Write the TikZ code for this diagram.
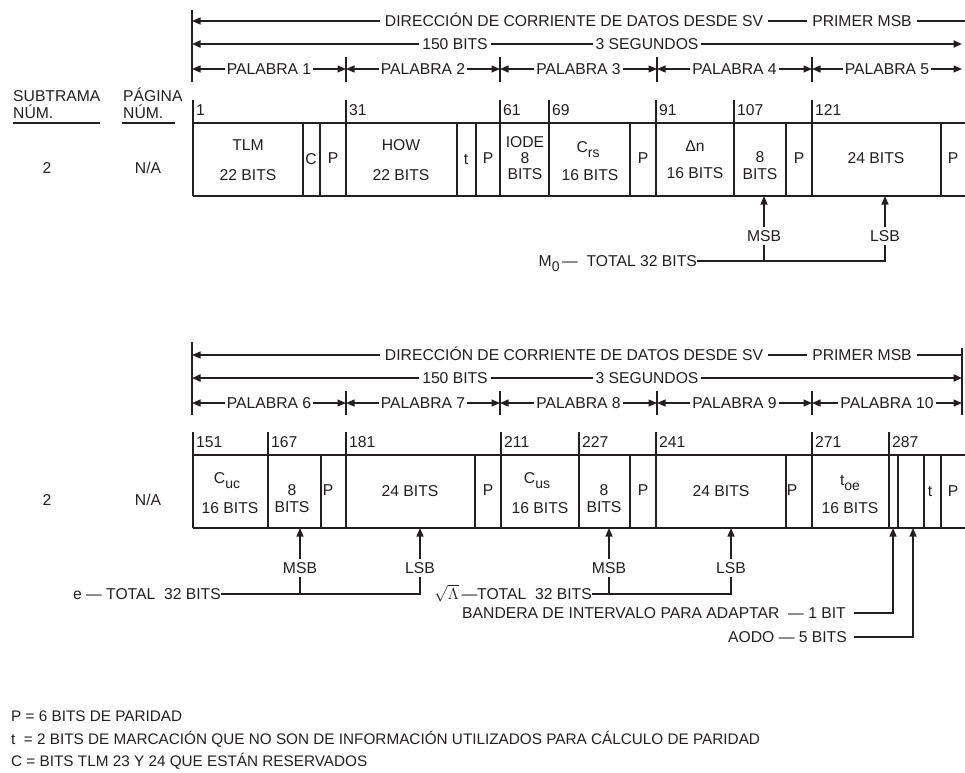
\documentclass[tikz,border=0pt]{standalone}
\usepackage{fontspec}
\setmainfont{Liberation Sans}
\usetikzlibrary{arrows.meta}
\definecolor{ink}{HTML}{231F20}
\newcommand{\sbx}[1]{\raisebox{-4.5pt}{\fontsize{14}{14}\selectfont #1}}
\begin{document}
\begin{tikzpicture}[x=1pt,y=-1pt,
  every node/.style={font=\fontsize{15.7}{18}\selectfont, text=ink, inner sep=0pt, text height=11.2pt, text depth=0pt},
  ln/.style={draw=ink, line width=1.2pt},
  thk/.style={draw=ink, line width=2.4pt},
  bx/.style={draw=ink, line width=1.6pt},
  tip/.style={-{Triangle[length=8.5pt,width=7pt]}},
  tips/.style={{Triangle[length=8.5pt,width=7pt]}-{Triangle[length=8.5pt,width=7pt]}},
  wl/.style={fill=white, inner xsep=5pt, inner ysep=1pt},
  wl2/.style={fill=white, inner xsep=2pt, inner ysep=1pt},
  lab/.style={fill=white, inner xsep=0pt, inner ysep=3pt},
  num/.style={anchor=west},
  leg/.style={anchor=west, font=\fontsize{15.3}{18}\selectfont},
]
\useasboundingbox (0,0) rectangle (965,772);

% ===================== TOP SECTION =====================
\coordinate (hT0) at (192,10); \coordinate (hT1) at (192,82);
\draw[ln] (hT0) -- (hT1);
\foreach \x in {346,500,657,812} \draw[ln] (\x,57) -- (\x,82);
\coordinate (aT1L) at (192,21); \coordinate (aT1R) at (965,21);
\draw[ln,tip] (aT1R) -- (aT1L);
\node[wl] (dirT) at (574,21) {DIRECCIÓN DE CORRIENTE DE DATOS DESDE SV};
\node[wl] (pmT) at (862,21) {PRIMER MSB};
\node[inner xsep=3pt] (bitsT) at (455,44) {150 BITS};
\node[inner xsep=2pt] (segT) at (647,44) {3 SEGUNDOS};
\coordinate (aT2L) at (192,44); \coordinate (aT2R) at (962,44);
\draw[thk,tip] (bitsT.west) -- (aT2L);
\draw[ln] (bitsT.east) -- (segT.west);
\draw[thk,tip] (segT.east) -- (aT2R);
\coordinate (wT0) at (192,69); \coordinate (wT1) at (346,69); \coordinate (wT2) at (500,69);
\coordinate (wT3) at (657,69); \coordinate (wT4) at (812,69); \coordinate (wT5) at (962,69);
\draw[ln,tips] (wT0) -- node[wl2] (pT1) {PALABRA 1} (wT1);
\draw[ln,tips] (wT1) -- node[wl2] (pT2) {PALABRA 2} (wT2);
\draw[ln,tips] (wT2) -- node[wl2] (pT3) {PALABRA 3} (wT3);
\draw[ln,tips] (wT3) -- node[wl2] (pT4) {PALABRA 4} (wT4);
\draw[ln,tips] (wT4) -- node[wl2] (pT5) {PALABRA 5} (wT5);

% left labels
\node[anchor=west] (sub1) at (13,96) {SUBTRAMA};
\node[anchor=west] (sub2) at (13,113) {NÚM.};
\node[anchor=west] (pag1) at (123,96) {PÁGINA};
\node[anchor=west] (pag2) at (123,113) {NÚM.};
\draw[ln] (13,123) -- (100,123);
\draw[ln] (122,123) -- (175,123);
\node (twoT) at (47,168) {2};
\node (naT) at (148,168) {N/A};

% box
\draw[bx] (193,123) -- (965,123);
\draw[bx] (193,196) -- (965,196);
\foreach \x/\n in {193/1,346/31,500/61,549/69,656/91,734/107,812/121} {
  \draw[bx] (\x,100) -- (\x,196);
  \node[num] (nT\n) at (\x+3,110) {\n};
}
\foreach \x in {303,320,457,476,630,786,941} \draw[bx] (\x,123) -- (\x,196);

\node (cT1a) at (248,145) {TLM};
\node (cT1b) at (248,175) {22 BITS};
\node (cT2) at (311,159) {C};
\node (cT3) at (333,158) {P};
\node (cT4a) at (401,145) {HOW};
\node (cT4b) at (401,175) {22 BITS};
\node (cT5) at (466,159) {t};
\node (cT6) at (488,158) {P};
\node (cT7a) at (525,142) {IODE};
\node (cT7b) at (525,158) {8};
\node (cT7c) at (525,174) {BITS};
\node (cT8a) at (588,147) {C\sbx{rs}};
\node (cT8b) at (590,175) {16 BITS};
\node (cT9) at (643,158) {P};
\node (cT10a) at (695,146) {Δn};
\node (cT10b) at (695,173) {16 BITS};
\node (cT11a) at (760,157) {8};
\node (cT11b) at (760,174) {BITS};
\node (cT12) at (799,158) {P};
\node (cT13) at (876,158) {24 BITS};
\node (cT14) at (953,158) {P};

% arrows top
\coordinate (msbT) at (764,196); \coordinate (lsbT) at (885,196);
\coordinate (msbTf) at (764,261);
\node[anchor=east] (m0T) at (697,261) {M\sbx{0}\,—\ \ TOTAL 32 BITS};
\draw[ln,tip] (m0T.east) -| (lsbT);
\draw[ln,tip] (msbTf) -- (msbT);
\node[lab] (msbTl) at (764,236) {MSB};
\node[lab] (lsbTl) at (885,236) {LSB};

% ===================== BOTTOM SECTION =====================
\coordinate (hB0) at (192,342); \coordinate (hB1) at (192,415);
\draw[ln] (hB0) -- (hB1);
\coordinate (hR0) at (962,348); \coordinate (hR1) at (962,415);
\draw[ln] (hR0) -- (hR1);
\foreach \x in {346,500,657,812} \draw[ln] (\x,391) -- (\x,415);
\coordinate (aB1L) at (192,355); \coordinate (aB1R) at (962,355);
\draw[ln,tip] (aB1R) -- (aB1L);
\node[wl] (dirB) at (574,355) {DIRECCIÓN DE CORRIENTE DE DATOS DESDE SV};
\node[wl] (pmB) at (862,355) {PRIMER MSB};
\node[inner xsep=3pt] (bitsB) at (455,378) {150 BITS};
\node[inner xsep=2pt] (segB) at (647,378) {3 SEGUNDOS};
\coordinate (aB2L) at (192,378); \coordinate (aB2R) at (962,378);
\draw[thk,tip] (bitsB.west) -- (aB2L);
\draw[ln] (bitsB.east) -- (segB.west);
\draw[thk,tip] (segB.east) -- (aB2R);
\coordinate (wB0) at (192,403); \coordinate (wB1) at (346,403); \coordinate (wB2) at (500,403);
\coordinate (wB3) at (657,403); \coordinate (wB4) at (812,403); \coordinate (wB5) at (962,403);
\draw[ln,tips] (wB0) -- node[wl2] (pB6) {PALABRA 6} (wB1);
\draw[ln,tips] (wB1) -- node[wl2] (pB7) {PALABRA 7} (wB2);
\draw[ln,tips] (wB2) -- node[wl2] (pB8) {PALABRA 8} (wB3);
\draw[ln,tips] (wB3) -- node[wl2] (pB9) {PALABRA 9} (wB4);
\draw[ln,tips] (wB4) -- node[wl2] (pB10) {PALABRA 10} (wB5);

\node (twoB) at (47,500) {2};
\node (naB) at (148,500) {N/A};

\draw[bx] (193,455) -- (965,455);
\draw[bx] (193,528) -- (965,528);
\foreach \x/\n in {193/151,268/167,346/181,501/211,579/227,656/241,812/271,889/287} {
  \draw[bx] (\x,432) -- (\x,528);
  \node[num] (nB\n) at (\x+3,442) {\n};
}
\foreach \x in {321,475,630,786,898,924,941} \draw[bx] (\x,455) -- (\x,528);

\node (cB1a) at (227,478) {C\sbx{uc}};
\node (cB1b) at (230,508) {16 BITS};
\node (cB2a) at (292,490) {8};
\node (cB2b) at (292,507) {BITS};
\node (cB3) at (328,490) {P};
\node (cB4) at (410,491) {24 BITS};
\node (cB5) at (488,490) {P};
\node (cB6a) at (537,478) {C\sbx{us}};
\node (cB6b) at (540,508) {16 BITS};
\node (cB7a) at (604,490) {8};
\node (cB7b) at (604,507) {BITS};
\node (cB8) at (643,490) {P};
\node (cB9) at (721,491) {24 BITS};
\node (cB10) at (792,490) {P};
\node (cB11a) at (850,480) {t\sbx{oe}};
\node (cB11b) at (850,508) {16 BITS};
\node (cB12) at (930,491) {t};
\node (cB13) at (953,491) {P};

% arrows bottom
\coordinate (mb1) at (300,528); \coordinate (lb1) at (420,528);
\coordinate (mb2) at (609,528); \coordinate (lb2) at (731,528);
\coordinate (fb) at (893,528); \coordinate (ab) at (913,528);
\coordinate (mb1f) at (300,594); \coordinate (mb2f) at (609,594);
\node[anchor=east] (eB) at (221,594) {e — TOTAL\ \ 32 BITS};
\draw[ln,tip] (eB.east) -| (lb1);
\draw[ln,tip] (mb1f) -- (mb1);
\node[anchor=east] (lamB) at (592,594) {\scalebox{1.12}{$\sqrt{\Lambda}$}\,—TOTAL\ \ 32 BITS};
\draw[ln,tip] (lamB.east) -| (lb2);
\draw[ln,tip] (mb2f) -- (mb2);
\node[lab] (msbB1) at (300,568) {MSB};
\node[lab] (lsbB1) at (420,568) {LSB};
\node[lab] (msbB2) at (609,568) {MSB};
\node[lab] (lsbB2) at (731,568) {LSB};
\node[anchor=east] (flagB) at (846,613) {BANDERA DE INTERVALO PARA ADAPTAR\ \ — 1 BIT};
\coordinate (flagS) at (854,613);
\draw[ln,tip] (flagS) -| (fb);
\node[anchor=east] (aodoB) at (847,637) {AODO — 5 BITS};
\coordinate (aodoS) at (854,637);
\draw[ln,tip] (aodoS) -| (ab);

% legend
\node[leg] (lg1) at (11,716) {P = 6 BITS DE PARIDAD};
\node[leg] (lg2) at (11,739) {t\ \ = 2 BITS DE MARCACIÓN QUE NO SON DE INFORMACIÓN UTILIZADOS PARA CÁLCULO DE PARIDAD};
\node[leg] (lg3) at (11,761) {C = BITS TLM 23 Y 24 QUE ESTÁN RESERVADOS};
\end{tikzpicture}
\end{document}
